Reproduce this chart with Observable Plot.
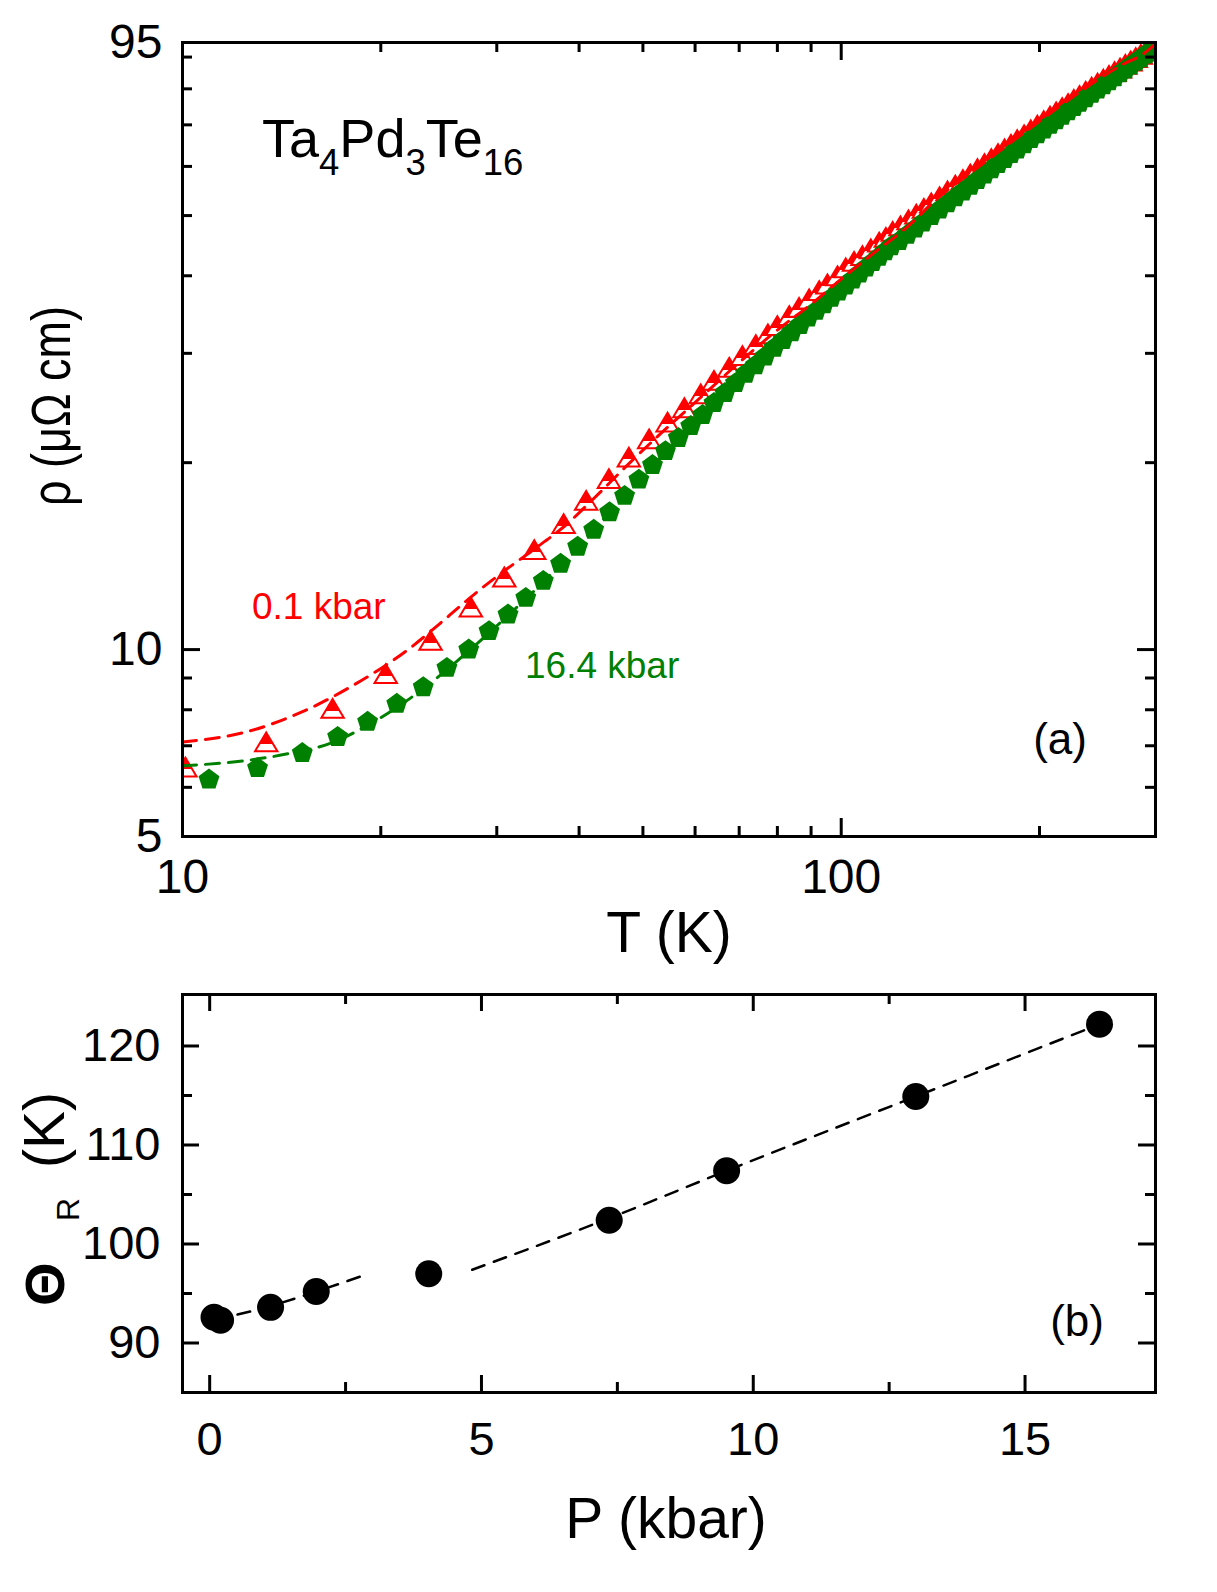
<!DOCTYPE html>
<html>
<head>
<meta charset="utf-8">
<script src="https://cdn.jsdelivr.net/npm/d3@7"></script>
<script src="https://cdn.jsdelivr.net/npm/@observablehq/plot@0.6"></script>
<style>
  body { margin: 0; background: #fff; }
  #chart { width: 1217px; position: relative; }
  #chart svg { display: block; }
</style>
</head>
<body>
<div id="chart"></div>
<script>
// ---------- Panel (a): resistivity vs temperature ----------
const redT = [10.1, 13.4, 16.9, 20.35, 23.8, 27.4, 30.8, 34.2, 37.9, 41.0, 44.4, 47.6, 51.1, 54.5, 57.8, 61.2, 64.1, 67.6, 70.8, 74.2, 77.4, 80.0, 83.4, 86.3, 89.4, 92.6, 95.3, 98.7, 101.6, 104.6, 107.7, 110.9, 114.2, 116.9, 119.7, 123, 126.5, 130, 133.5, 137, 141, 145, 149, 153, 157, 161, 165, 169, 173, 177, 181, 185, 189.5, 194, 198.5, 203, 207.5, 212, 216.5, 221, 225.5, 230, 235, 240, 245, 250, 255, 260, 265, 270, 275, 280, 285, 290, 295, 299];
const redRho = [6.47, 7.10, 8.04, 9.15, 10.35, 11.71, 13.09, 14.49, 15.95, 17.39, 18.85, 20.41, 21.85, 23.24, 24.52, 25.82, 27.13, 28.49, 29.75, 30.99, 32.25, 33.24, 34.51, 35.58, 36.70, 37.85, 38.80, 40.00, 41.18, 42.20, 43.10, 44.20, 45.30, 46.13, 47.17, 48.13, 49.21, 50.28, 51.35, 52.41, 53.61, 54.80, 55.99, 57.16, 58.33, 59.49, 60.64, 61.77, 62.90, 64.03, 65.14, 66.24, 67.47, 68.69, 69.90, 71.10, 72.28, 73.46, 74.62, 75.77, 76.91, 78.04, 79.28, 80.51, 81.72, 82.92, 84.10, 85.27, 86.43, 87.57, 88.70, 89.82, 90.92, 92.00, 93.08, 93.92];

const greenT = [10.97, 13.0, 15.2, 17.2, 19.1, 21.15, 23.2, 25.2, 27.2, 29.2, 31.2, 33.2, 35.3, 37.5, 39.8, 42.1, 44.5, 46.9, 49.3, 51.7, 54.1, 56.6, 59.1, 61.6, 64.1, 66.6, 69.1, 71.6, 74.1, 76.6, 79.1, 81.6, 84.1, 86.6, 89.1, 91.6, 94.1, 96.6, 99.1, 101.6, 104.1, 106.6, 109.1, 111.6, 114.1, 116.6, 119.1, 122.5, 126, 129.5, 133, 137, 141, 145, 149, 153, 157, 161, 165, 169, 173, 177, 181, 185, 189.5, 194, 198.5, 203, 207.5, 212, 216.5, 221, 225.5, 230, 235, 240, 245, 250, 255, 260, 265, 270, 275, 280, 285, 290, 295, 299];
const greenRho = [6.20, 6.47, 6.84, 7.26, 7.68, 8.21, 8.73, 9.38, 10.04, 10.75, 11.43, 12.16, 12.95, 13.80, 14.70, 15.65, 16.70, 17.75, 18.85, 19.90, 20.95, 22.00, 23.00, 23.95, 25.04, 25.99, 26.96, 27.92, 28.81, 29.76, 30.73, 31.64, 32.55, 33.44, 34.37, 35.24, 36.12, 36.98, 37.87, 38.70, 39.60, 40.49, 41.38, 42.23, 43.08, 43.94, 44.79, 45.67, 46.75, 47.82, 48.89, 50.10, 51.30, 52.50, 53.69, 54.87, 56.06, 57.23, 58.43, 59.58, 60.73, 61.89, 63.02, 64.12, 65.38, 66.63, 67.84, 69.04, 70.26, 71.48, 72.68, 73.88, 75.06, 76.24, 77.54, 78.82, 80.09, 81.34, 82.59, 83.82, 85.05, 86.26, 87.50, 88.74, 89.92, 91.17, 92.43, 93.45];

const redFitT = [10, 12.5, 15, 18, 22, 25.3, 27.4, 30.4, 34, 38, 43, 48, 54, 61, 70, 80, 90, 100, 112, 125, 140, 163, 192, 223, 266, 288, 300];
const redFitRho = [7.10, 7.37, 7.89, 8.71, 10.0, 11.3, 12.15, 13.25, 14.45, 15.8, 17.9, 20.1, 22.6, 25.4, 29.0, 32.7, 36.0, 39.5, 43.5, 47.6, 53.3, 60.3, 68.7, 77.2, 87.3, 91.2, 94.5];

const greenFitT = [10, 12.4, 14.5, 16.8, 19.1, 23.2, 27.2, 31.2, 35.3, 40, 45, 50, 55, 60, 70, 80, 90, 100, 115, 130, 160, 200, 250, 300];
const greenFitRho = [6.50, 6.62, 6.80, 7.07, 7.55, 8.65, 9.95, 11.35, 12.85, 14.75, 16.85, 19.0, 21.1, 23.1, 27.2, 30.9, 34.4, 37.9, 43.0, 47.6, 56.8, 68.0, 81.4, 94.0];

const topXMajor = [10, 100];
const topXMinor = [20, 30, 40, 50, 60, 70, 80, 90, 200, 300];
const topYMajor = [10];
const topYMinor = [6, 7, 8, 9, 20, 30, 40, 50, 60, 70, 80, 90];
const topXLabels = [10, 100];
const topYLabels = [5, 10, 95];

// ---------- Panel (b): Theta_R vs pressure ----------
const pressure = [0.08, 0.2, 1.12, 1.96, 4.03, 7.35, 9.51, 12.99, 16.37];
const thetaR = [92.6, 92.3, 93.6, 95.2, 97.0, 102.4, 107.4, 114.9, 122.2];
const fitAP = [0.1, 1.1, 1.96, 2.9];
const fitAT = [92.35, 93.7, 95.2, 96.95];
const fitBP = [4.83, 7.35, 9.51, 12.99, 16.37];
const fitBT = [97.4, 102.6, 107.4, 114.9, 122.2];

const botXMajor = [0, 5, 10, 15];
const botXMinor = [2.5, 7.5, 12.5];
const botYMajor = [90, 100, 110, 120];
const botYMinor = [95, 105, 115];

// ---------- styling ----------
const RED = "#ff0000", GREEN = "#008000";
const FONT = "'Liberation Sans', Arial, Helvetica, sans-serif";

const zip = (a, b, ka, kb) => a.map((v, i) => ({[ka]: v, [kb]: b[i]}));
const red01 = zip(redT, redRho, "T", "rho");
const green164 = zip(greenT, greenRho, "T", "rho");
const redFit = zip(redFitT, redFitRho, "T", "rho");
const greenFit = zip(greenFitT, greenFitRho, "T", "rho");
const thetaData = zip(pressure, thetaR, "P", "theta");
const fitA = zip(fitAP, fitAT, "P", "theta");
const fitB = zip(fitBP, fitBT, "P", "theta");

// custom symbols (centered on their bounding box)
const triangle = {
  draw(ctx, size) {
    const R = Math.sqrt(size / Math.PI);
    const s = R * 2.8, h = s * 0.84;
    ctx.moveTo(0, -h / 2);
    ctx.lineTo(s / 2, h / 2);
    ctx.lineTo(-s / 2, h / 2);
    ctx.closePath();
  }
};
const pentagon = {
  draw(ctx, size) {
    const R = Math.sqrt(size / Math.PI);
    for (let i = 0; i < 5; i++) {
      const a = -Math.PI / 2 + i * 2 * Math.PI / 5;
      const px = R * Math.cos(a), py = R * Math.sin(a) + R * 0.095;
      if (i === 0) ctx.moveTo(px, py); else ctx.lineTo(px, py);
    }
    ctx.closePath();
  }
};

function frameTicks(xMaj, xMin, yMaj, yMin, FW, FH, majLen, minLen, sw) {
  const o = {stroke: "black", strokeWidth: sw};
  return [
    Plot.tickX(xMaj, {...o, insetTop: FH - majLen}),
    Plot.tickX(xMaj, {...o, insetBottom: FH - majLen}),
    Plot.tickX(xMin, {...o, insetTop: FH - minLen}),
    Plot.tickX(xMin, {...o, insetBottom: FH - minLen}),
    Plot.tickY(yMaj, {...o, insetRight: FW - majLen}),
    Plot.tickY(yMaj, {...o, insetLeft: FW - majLen}),
    Plot.tickY(yMin, {...o, insetRight: FW - minLen}),
    Plot.tickY(yMin, {...o, insetLeft: FW - minLen})
  ];
}

// ---------- top plot ----------
const W = 1217;
const topH = 975, tML = 182, tMR = 62, tMT = 42, tMB = 139;
const tFW = W - tML - tMR, tFH = topH - tMT - tMB;

const topPlot = Plot.plot({
  width: W, height: topH,
  marginLeft: tML, marginRight: tMR, marginTop: tMT, marginBottom: tMB,
  style: {fontFamily: FONT, background: "white", color: "black", overflow: "visible"},
  x: {type: "log", domain: [10, 300]},
  y: {type: "log", domain: [5, 95]},
  marks: [
    Plot.dot(red01, {x: "T", y: "rho", symbol: triangle, r: 8, fill: "url(#halfRed)", stroke: RED, strokeWidth: 2, clip: true}),
    Plot.line(greenFit, {x: "T", y: "rho", stroke: GREEN, strokeWidth: 3, strokeDasharray: "14,9", curve: "monotone-x", clip: true}),
    Plot.dot(green164, {x: "T", y: "rho", symbol: pentagon, r: 11, fill: GREEN, stroke: "none", clip: true}),
    Plot.line(redFit, {x: "T", y: "rho", stroke: RED, strokeWidth: 3, strokeDasharray: "14,9", curve: "monotone-x", clip: true}),
    Plot.frame({stroke: "black", strokeWidth: 3}),
    ...frameTicks(topXMajor, topXMinor, topYMajor, topYMinor, tFW, tFH, 18, 10, 3),
    Plot.axisX({ticks: topXLabels, anchor: "bottom", tickSize: 0, tickPadding: 22, fontSize: 48, tickFormat: d => String(d), label: null}),
    Plot.axisY({ticks: topYLabels, anchor: "left", tickSize: 0, tickPadding: 20, fontSize: 48, tickFormat: d => String(d), label: null})
  ]
});

// ---------- bottom plot ----------
const botH = 1592 - topH, bML = 182, bMR = 62, bMT = 19, bMB = 200;
const bFW = W - bML - bMR, bFH = botH - bMT - bMB;

const botPlot = Plot.plot({
  width: W, height: botH,
  marginLeft: bML, marginRight: bMR, marginTop: bMT, marginBottom: bMB,
  style: {fontFamily: FONT, background: "white", color: "black", overflow: "visible"},
  x: {domain: [-0.5, 17.4]},
  y: {domain: [85, 125.2]},
  marks: [
    Plot.line(fitA, {x: "P", y: "theta", stroke: "black", strokeWidth: 2.5, strokeDasharray: "13,10", curve: "monotone-x"}),
    Plot.line(fitB, {x: "P", y: "theta", stroke: "black", strokeWidth: 2.5, strokeDasharray: "13,10", curve: "monotone-x"}),
    Plot.dot(thetaData, {x: "P", y: "theta", r: 13.5, fill: "black", stroke: "none"}),
    Plot.frame({stroke: "black", strokeWidth: 3}),
    ...frameTicks(botXMajor, botXMinor, botYMajor, botYMinor, bFW, bFH, 17, 10, 3),
    Plot.axisX({ticks: botXMajor, anchor: "bottom", tickSize: 0, tickPadding: 29, fontSize: 47, tickFormat: d => String(d), label: null}),
    Plot.axisY({ticks: botYMajor, anchor: "left", tickSize: 0, tickPadding: 22, fontSize: 47, tickFormat: d => String(d), label: null})
  ]
});

const chart = document.getElementById("chart");
chart.appendChild(topPlot);
chart.appendChild(botPlot);

// gradient for half-filled triangles
const st = d3.select(topPlot);
const defs = st.insert("defs", ":first-child");
const g = defs.append("linearGradient").attr("id", "halfRed")
  .attr("x1", 0).attr("y1", 0).attr("x2", 0).attr("y2", 1);
g.append("stop").attr("offset", 0.62).attr("stop-color", RED);
g.append("stop").attr("offset", 0.62).attr("stop-color", "white");
g.append("stop").attr("offset", 1).attr("stop-color", "white");

// ---------- annotation helpers ----------
function label(sel, x, y, size, text, anchor, fill) {
  return sel.append("text").attr("x", x).attr("y", y)
    .attr("font-family", FONT).attr("font-size", size)
    .attr("text-anchor", anchor).attr("fill", fill || "black").text(text);
}
function vlabel(sel, x, y, size, text, anchor, weight) {
  return sel.append("text").attr("transform", `translate(${x},${y}) rotate(-90)`)
    .attr("font-family", FONT).attr("font-size", size)
    .attr("font-weight", weight || "normal")
    .attr("text-anchor", anchor).attr("fill", "black").text(text);
}
function rich(sel, size, parts, attrs) {
  const t = sel.append("text").attr("font-family", FONT).attr("font-size", size).attr("fill", "black");
  for (const k in attrs) t.attr(k, attrs[k]);
  let shift = 0;
  for (const p of parts) {
    const ts = t.append("tspan").text(p.text);
    if (p.size) ts.attr("font-size", p.size);
    const want = p.dy || 0;
    if (want !== shift) { ts.attr("dy", want - shift); shift = want; }
  }
  return t;
}

// ---------- annotations: top ----------
rich(st, 54, [
  {text: "Ta"}, {text: "4", size: 36.5, dy: 18},
  {text: "Pd"}, {text: "3", size: 36.5, dy: 18},
  {text: "Te"}, {text: "16", size: 36.5, dy: 18}
], {x: 262, y: 157, "text-anchor": "start"});

label(st, 252, 619, 37, "0.1 kbar", "start", RED);
label(st, 525, 678, 37, "16.4 kbar", "start", GREEN);
label(st, 1087, 754, 44, "(a)", "end");
label(st, 669, 952, 57, "T (K)", "middle");
vlabel(st, 70, 406, 56, "ρ (μΩ cm)", "middle")
  .attr("textLength", 200).attr("lengthAdjust", "spacingAndGlyphs");

// ---------- annotations: bottom ----------
const sb = d3.select(botPlot);
label(sb, 1104, 361, 44, "(b)", "end");
label(sb, 666, 563, 57, "P (kbar)", "middle");
vlabel(sb, 64, 331, 56, "Θ", "start", "bold");
vlabel(sb, 79, 246, 32, "R", "start");
vlabel(sb, 64, 193, 57, "(K)", "start");
</script>
</body>
</html>
